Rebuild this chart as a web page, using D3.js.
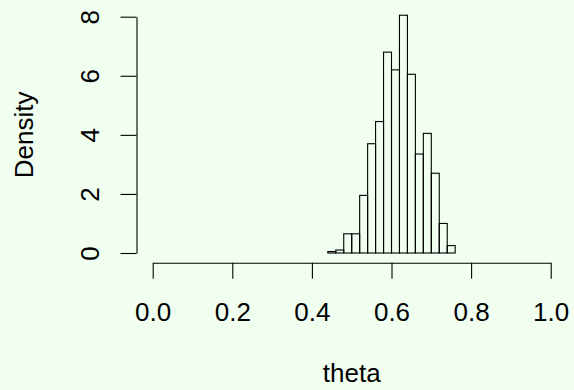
<!DOCTYPE html>
<html>
<head>
<meta charset="utf-8">
<script src="https://cdn.jsdelivr.net/npm/d3@7"></script>
<style>
  html, body { margin: 0; padding: 0; background: #F0FFF0; }
  svg { display: block; font-family: "Liberation Sans", Arial, Helvetica, sans-serif; }
</style>
</head>
<body>
<svg id="chart" width="574" height="390"></svg>
<script>
// histogram of theta (density scale), bins of width 0.02
const binStarts = [0.44,0.46,0.48,0.50,0.52,0.54,0.56,0.58,0.60,0.62,0.64,0.66,0.68,0.70,0.72,0.74];
const binEnds   = [0.46,0.48,0.50,0.52,0.54,0.56,0.58,0.60,0.62,0.64,0.66,0.68,0.70,0.72,0.74,0.76];
const density   = [0.05,0.10,0.65,0.65,1.95,3.70,4.45,6.80,6.20,8.05,6.05,3.35,4.05,2.70,1.00,0.25];
const xTicks = [0, 0.2, 0.4, 0.6, 0.8, 1.0];
const yTicks = [0, 2, 4, 6, 8];

const svg = d3.select('#chart');
const fs = 26;

const x = d3.scaleLinear().domain([0, 1]).range([152.7, 550.7]);
const y = d3.scaleLinear().domain([0, 8]).range([253, 16.7]);

const bins = binStarts.map((b, i) => ({x0: b, x1: binEnds[i], d: density[i]}));

// bars
svg.append('g').selectAll('rect').data(bins).enter().append('rect')
  .attr('x', d => x(d.x0))
  .attr('y', d => y(d.d))
  .attr('width', d => x(d.x1) - x(d.x0))
  .attr('height', d => y(0) - y(d.d))
  .attr('fill', 'none')
  .attr('stroke', '#000')
  .attr('stroke-width', 1.1);

// x axis
const gx = svg.append('g')
  .attr('transform', 'translate(0,262.7)')
  .call(d3.axisBottom(x).tickValues(xTicks).tickFormat(d3.format('.1f'))
    .tickSize(16).tickSizeOuter(0).tickPadding(23.8));
gx.selectAll('text').style('font-size', fs + 'px').attr('fill', '#000');
gx.selectAll('line, path').attr('stroke', '#000').attr('stroke-width', 1.1);

// y axis, labels parallel to axis
const gy = svg.append('g')
  .attr('transform', 'translate(136.5,0)')
  .call(d3.axisLeft(y).tickValues(yTicks).tickFormat(d3.format('d'))
    .tickSize(16).tickSizeOuter(0));
gy.selectAll('text')
  .attr('x', 0).attr('dy', 0)
  .attr('text-anchor', 'middle')
  .attr('transform', 'translate(-37.8,0) rotate(-90)')
  .style('font-size', fs + 'px').attr('fill', '#000');
gy.selectAll('line, path').attr('stroke', '#000').attr('stroke-width', 1.1);

// axis titles
svg.append('text')
  .attr('x', 351.7).attr('y', 382.3)
  .attr('text-anchor', 'middle')
  .style('font-size', fs + 'px')
  .text('theta');

svg.append('text')
  .attr('transform', 'translate(33.3,134.9) rotate(-90)')
  .attr('text-anchor', 'middle')
  .style('font-size', fs + 'px')
  .text('Density');
</script>
</body>
</html>
